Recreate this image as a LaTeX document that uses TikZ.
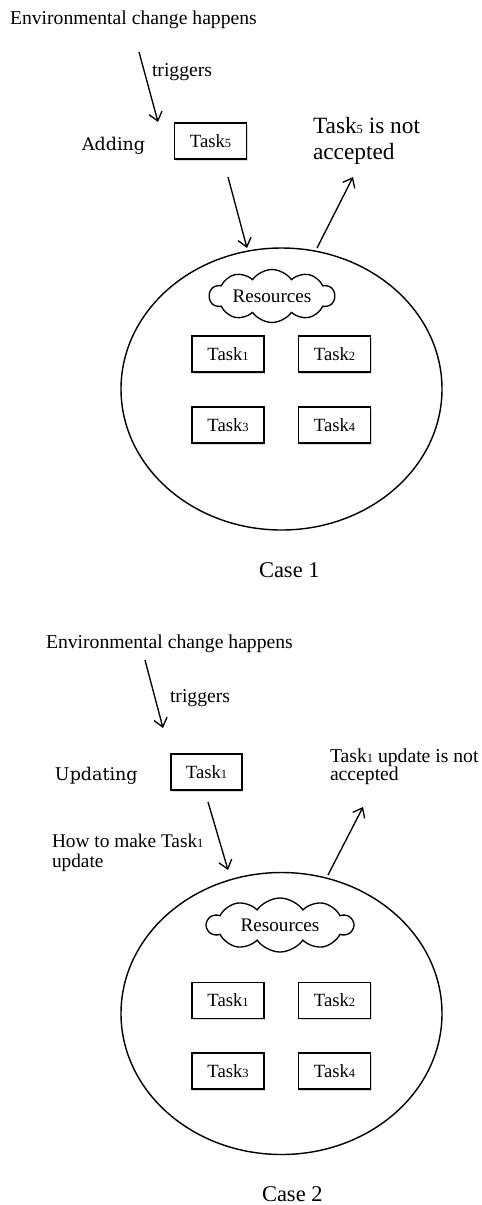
\documentclass[tikz,border=0pt]{standalone}
\usepackage{fontspec}
\setmainfont{Liberation Serif}
\newfontfamily\addfont{DejaVu Serif}
\usetikzlibrary{arrows.meta,shapes.geometric,shapes.symbols,shadows}
\newcommand{\tsk}[1]{Task{\fontsize{7.5}{8}\selectfont #1}}
\tikzset{
  every node/.style={inner sep=0pt, outer sep=0pt},
  arr/.style={line width=0.8pt, -{Straight Barb[length=5pt,width=8pt,line width=0.8pt]}},
  taskbox/.style={draw, line width=0.8pt, fill=white, minimum width=43.2pt, minimum height=21.6pt,
    font=\fontsize{11.2}{12}\selectfont,
    drop shadow={opacity=0.3, shadow xshift=0.7pt, shadow yshift=-0.9pt}},
  pool/.style={draw, ellipse, line width=0.85pt, minimum width=192.6pt, minimum height=169.2pt},
  res/.style={draw, cloud, cloud puffs=10, cloud puff arc=110, cloud ignores aspect, line width=0.8pt,
    font=\fontsize{11.5}{12}\selectfont},
  txt/.style={font=\fontsize{11.8}{13}\selectfont},
  verb/.style={font=\addfont\fontsize{10.5}{12}\selectfont},
  casel/.style={font=\fontsize{13.5}{15}\selectfont},
}
\begin{document}
\begin{tikzpicture}[x=0.6pt,y=-0.6pt]
\useasboundingbox (0,0) rectangle (482,1205);
% ---------------- Case 1 ----------------
\node[txt, anchor=base west] (env1) at (10,24) {Environmental change happens};
\node[txt, anchor=base west] (trig1) at (152,76) {triggers};
\node[verb, anchor=base west] (add1) at (82,150) {Adding};
\node[taskbox] (t5) at (210.5,141) {\tsk{5}};
\node[anchor=west, align=left, font=\fontsize{14}{16}\selectfont] (rej1) at (313,141) {\tsk{5} is not\\accepted};
\node[pool] (pool1) at (281.5,389) {};
\node[res, minimum width=75pt, minimum height=31.8pt] (res1) at (272,296) {Resources};
\node[taskbox] (a1) at (228,354) {\tsk{1}};
\node[taskbox] (a2) at (334.5,354) {\tsk{2}};
\node[taskbox] (a3) at (228,425) {\tsk{3}};
\node[taskbox] (a4) at (334.5,425) {\tsk{4}};
\node[casel, anchor=base west] (case1) at (259,577) {Case 1};
\coordinate (p1s) at (139,52);
\coordinate (p1e) at (158,122);
\coordinate (p2s) at (228,177);
\coordinate (p2e) at (247,248);
\coordinate (p3s) at (317,248);
\coordinate (p3e) at (353,177);
\draw[arr] (p1s) -- (p1e);
\draw[arr] (p2s) -- (p2e);
\draw[arr] (p3s) -- (p3e);
% ---------------- Case 2 ----------------
\node[txt, anchor=base west] (env2) at (46,648) {Environmental change happens};
\node[txt, anchor=base west] (trig2) at (170,702) {triggers};
\node[verb, anchor=base west] (upd2) at (55,780) {Updating};
\node[taskbox, minimum width=42.6pt] (t1u) at (206.5,772) {\tsk{1}};
\node[txt, anchor=west, align=left, font=\fontsize{11.8}{11}\selectfont] (rej2) at (330,767) {\tsk{1} update is not\\accepted};
\node[txt, anchor=west, align=left, font=\fontsize{11.6}{12}\selectfont] (how2) at (52,853) {How to make \tsk{1}\\update};
\node[pool] (pool2) at (281.5,1013.5) {};
\node[res, minimum width=87.6pt, minimum height=32.4pt] (res2) at (280,925) {Resources};
\node[taskbox] (b1) at (228,1000.5) {\tsk{1}};
\node[taskbox] (b2) at (334.5,1000.5) {\tsk{2}};
\node[taskbox] (b3) at (228,1071) {\tsk{3}};
\node[taskbox] (b4) at (334.5,1071) {\tsk{4}};
\node[casel, anchor=base west] (case2) at (262,1201) {Case 2};
\coordinate (q1s) at (145,660);
\coordinate (q1e) at (163,728);
\coordinate (q2s) at (208,802);
\coordinate (q2e) at (228,870);
\coordinate (q3s) at (328,875);
\coordinate (q3e) at (363,807);
\draw[arr] (q1s) -- (q1e);
\draw[arr] (q2s) -- (q2e);
\draw[arr] (q3s) -- (q3e);
\end{tikzpicture}
\end{document}
